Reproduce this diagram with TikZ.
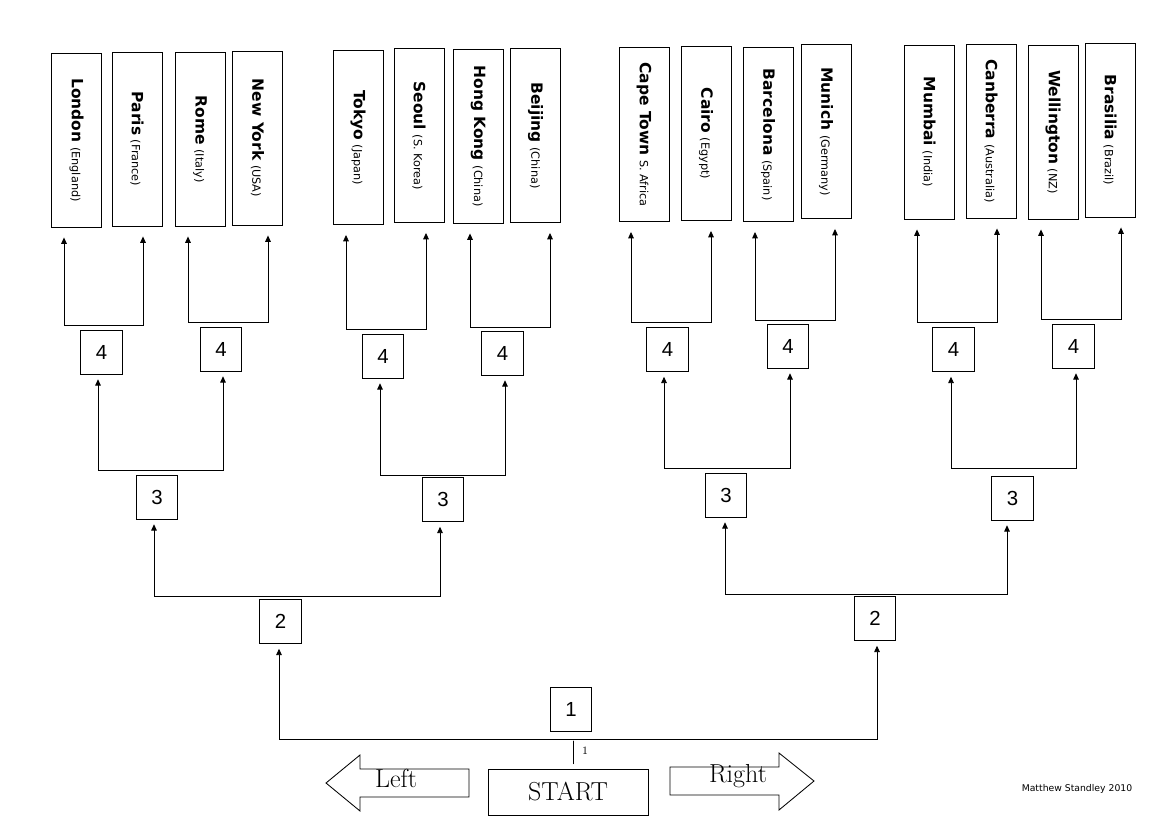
\documentclass[tikz,border=0pt]{standalone}
\usepackage{fontspec}
\usepackage{tikz}
\usetikzlibrary{arrows.meta}
\newfontfamily\cityfont{DejaVu Sans}
\newfontfamily\numfont{Liberation Sans}

\newcommand{\cityname}[2]{\rotatebox{-90}{{\cityfont\bfseries\fontsize{11}{13}\selectfont #1}\ {\cityfont\fontsize{8}{9}\selectfont #2}}}

\tikzset{
  citybox/.style={draw,line width=0.6pt,minimum width=1.25cm,minimum height=4.35cm,inner sep=0pt},
  numbox/.style={draw,line width=0.6pt,minimum width=1.03cm,minimum height=1.1cm,inner sep=0pt,font=\numfont\fontsize{14.5}{16}\selectfont},
  bigword/.style={font=\fontsize{18.5}{20}\selectfont},
  tocity/.style={<->,shorten <=2.5mm,shorten >=2.5mm},
  tobox/.style={<->,shorten <=1.2mm,shorten >=1.2mm},
}

\begin{document}
\begin{tikzpicture}[x=0.025cm,y=-0.025cm,>={Triangle[length=1.6mm,width=1.4mm]},line width=0.6pt,line cap=round]
\useasboundingbox (0,0) rectangle (1169,821);

% cities
\node[citybox] (london) at (76.5,140) {\cityname{London}{(England)}};
\node[citybox] (paris) at (137,139) {\cityname{Paris}{(France)}};
\node[citybox] (rome) at (200,139) {\cityname{Rome}{(Italy)}};
\node[citybox] (newyork) at (257.5,138) {\cityname{New York}{(USA)}};
\node[citybox] (tokyo) at (358,137.5) {\cityname{Tokyo}{(Japan)}};
\node[citybox] (seoul) at (419,135.5) {\cityname{Seoul}{(S. Korea)}};
\node[citybox] (hongkong) at (478,136) {\cityname{Hong Kong}{(China)}};
\node[citybox] (beijing) at (535.5,135.5) {\cityname{Beijing}{(China)}};
\node[citybox] (capetown) at (644,134.5) {\cityname{Cape Town}{S. Africa}};
\node[citybox] (cairo) at (706,133.5) {\cityname{Cairo}{(Egypt)}};
\node[citybox] (barcelona) at (768,134.5) {\cityname{Barcelona}{(Spain)}};
\node[citybox] (munich) at (826,131.5) {\cityname{Munich}{(Germany)}};
\node[citybox] (mumbai) at (929,132) {\cityname{Mumbai}{(India)}};
\node[citybox] (canberra) at (991,131) {\cityname{Canberra}{(Australia)}};
\node[citybox] (wellington) at (1053,132) {\cityname{Wellington}{(NZ)}};
\node[citybox] (brasilia) at (1110,130) {\cityname{Brasilia}{(Brazil)}};

% round 4
\node[numbox] (four1) at (101.5,352) {4};
\node[numbox] (four2) at (221,349) {4};
\node[numbox] (four3) at (383,356) {4};
\node[numbox] (four4) at (502.5,353) {4};
\node[numbox] (four5) at (667.5,349.5) {4};
\node[numbox] (four6) at (788,346) {4};
\node[numbox] (four7) at (953.5,349.5) {4};
\node[numbox] (four8) at (1073.5,346) {4};

% round 3
\node[numbox] (three1) at (157,497) {3};
\node[numbox] (three2) at (443,499.5) {3};
\node[numbox] (three3) at (726,495) {3};
\node[numbox] (three4) at (1012.5,498) {3};

% round 2 and 1
\node[numbox] (two1) at (280.5,621.5) {2};
\node[numbox] (two2) at (875,618.5) {2};
\node[numbox] (one) at (571,709) {1};

% fork corners
\coordinate (p1l) at (64,325);   \coordinate (p1r) at (143,325);
\coordinate (p2l) at (188,322);  \coordinate (p2r) at (268,322);
\coordinate (p3l) at (346,329);  \coordinate (p3r) at (426,329);
\coordinate (p4l) at (470,327);  \coordinate (p4r) at (550,327);
\coordinate (p5l) at (631,322);  \coordinate (p5r) at (711,322);
\coordinate (p6l) at (755,320);  \coordinate (p6r) at (835,320);
\coordinate (p7l) at (917,322);  \coordinate (p7r) at (997,322);
\coordinate (p8l) at (1041,319); \coordinate (p8r) at (1121,319);
\coordinate (q1l) at (98,470);   \coordinate (q1r) at (223,470);
\coordinate (q2l) at (380,475);  \coordinate (q2r) at (505,475);
\coordinate (q3l) at (664,468);  \coordinate (q3r) at (790,468);
\coordinate (q4l) at (951,468);  \coordinate (q4r) at (1076,468);
\coordinate (r1l) at (154,596);  \coordinate (r1r) at (440,596);
\coordinate (r2l) at (725,594);  \coordinate (r2r) at (1007,594);
\coordinate (sl) at (279,739);   \coordinate (sr) at (877,739);
\coordinate (tk) at (573,741);

% forks up to the cities
\draw[tocity] (p1l |- london.south) -- (p1l) -- (p1r) -- (p1r |- paris.south);
\draw[tocity] (p2l |- rome.south) -- (p2l) -- (p2r) -- (p2r |- newyork.south);
\draw[tocity] (p3l |- tokyo.south) -- (p3l) -- (p3r) -- (p3r |- seoul.south);
\draw[tocity] (p4l |- hongkong.south) -- (p4l) -- (p4r) -- (p4r |- beijing.south);
\draw[tocity] (p5l |- capetown.south) -- (p5l) -- (p5r) -- (p5r |- cairo.south);
\draw[tocity] (p6l |- barcelona.south) -- (p6l) -- (p6r) -- (p6r |- munich.south);
\draw[tocity] (p7l |- mumbai.south) -- (p7l) -- (p7r) -- (p7r |- canberra.south);
\draw[tocity] (p8l |- wellington.south) -- (p8l) -- (p8r) -- (p8r |- brasilia.south);

% forks between the boxes
\draw[tobox] (q1l |- four1.south) -- (q1l) -- (q1r) -- (q1r |- four2.south);
\draw[tobox] (q2l |- four3.south) -- (q2l) -- (q2r) -- (q2r |- four4.south);
\draw[tobox] (q3l |- four5.south) -- (q3l) -- (q3r) -- (q3r |- four6.south);
\draw[tobox] (q4l |- four7.south) -- (q4l) -- (q4r) -- (q4r |- four8.south);
\draw[tobox] (r1l |- three1.south) -- (r1l) -- (r1r) -- (r1r |- three2.south);
\draw[tobox] (r2l |- three3.south) -- (r2l) -- (r2r) -- (r2r |- three4.south);
\draw[tobox] (sl |- two1.south) -- (sl) -- (sr) -- (sr |- two2.south);

% start
\node[draw,minimum width=4cm,minimum height=1.15cm,inner sep=0pt,bigword] (start) at (568,792) {START};
\draw[shorten >=1.2mm] (tk) -- (tk |- start.north);
\node[font=\fontsize{8}{9}\selectfont] (tklbl) at (585,751) {1};

% left / right
\draw (326,783) -- (360,755) -- (360,769) -- (469,769) -- (469,797) -- (360,797) -- (360,811) -- cycle;
\node[bigword] (leftlbl) at (396,778) {Left};
\draw (670,767) -- (779,767) -- (779,753) -- (814,781) -- (779,810) -- (779,795) -- (670,795) -- cycle;
\node[bigword] (rightlbl) at (738,776) {Right};

\node[font=\cityfont\fontsize{6.6}{8}\selectfont] (sig) at (1077,789) {Matthew Standley 2010};
\end{tikzpicture}
\end{document}
